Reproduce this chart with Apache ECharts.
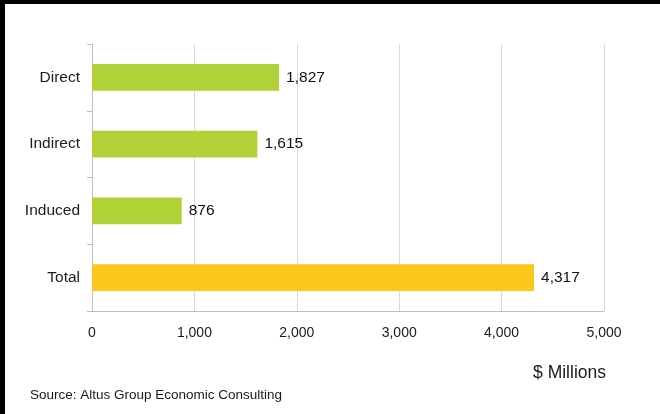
<!DOCTYPE html>
<html>
<head>
<meta charset="utf-8">
<script src="https://cdn.jsdelivr.net/npm/echarts@6/dist/echarts.min.js"></script>
<style>
html,body{margin:0;padding:0;background:#fff;}
#chart{width:660px;height:414px;}
</style>
</head>
<body>
<div id="chart"></div>
<script>
const categories = ['Direct', 'Indirect', 'Induced', 'Total'];
const values = [1827, 1615, 876, 4317];
const xTicks = [0, 1000, 2000, 3000, 4000, 5000];
const axisTitle = '$ Millions';
const sourceText = 'Source: Altus Group Economic Consulting';

const FONT = 'Liberation Sans, Arial, sans-serif';
const fmt = v => Number(v).toLocaleString('en-US');
const chart = echarts.init(document.getElementById('chart'), null, {renderer: 'canvas'});
chart.setOption({
  animation: false,
  backgroundColor: '#ffffff',
  textStyle: {fontFamily: FONT},
  grid: {left: 92, right: 56, top: 44, bottom: 103, containLabel: false},
  xAxis: {
    type: 'value',
    min: xTicks[0],
    max: xTicks[xTicks.length - 1],
    interval: xTicks[1] - xTicks[0],
    axisLine: {show: true, lineStyle: {color: '#bfbfbf', width: 1}},
    axisTick: {show: false},
    splitLine: {show: true, lineStyle: {color: '#d9d9d9', width: 1}},
    axisLabel: {color: '#1a1a1a', fontSize: 14, margin: 15, formatter: fmt}
  },
  yAxis: {
    type: 'category',
    data: categories,
    inverse: true,
    axisLine: {show: true, lineStyle: {color: '#bfbfbf', width: 1}},
    axisTick: {show: true, inside: false, length: 5, alignWithLabel: false, lineStyle: {color: '#bfbfbf'}},
    axisLabel: {color: '#1a1a1a', fontSize: 15.5, margin: 12}
  },
  series: [{
    type: 'bar',
    data: values,
    barCategoryGap: '60%',
    itemStyle: {
      color: p => p.name === 'Total' ? '#fcc71b' : '#b0d138'
    },
    label: {
      show: true,
      position: 'right',
      distance: 7,
      color: '#111',
      fontSize: 15.5,
      formatter: p => fmt(p.value)
    }
  }],
  graphic: [
    {type: 'rect', shape: {x: 0, y: 0, width: 660, height: 4}, style: {fill: '#000'}},
    {type: 'rect', shape: {x: 0, y: 0, width: 5, height: 414}, style: {fill: '#000'}},
    {type: 'text', right: 54, top: 364, style: {text: axisTitle, fontSize: 17.5, fill: '#1a1a1a', fontFamily: FONT}},
    {type: 'text', left: 30, top: 388, style: {text: sourceText, fontSize: 13.5, fill: '#1a1a1a', fontFamily: FONT}}
  ]
});
</script>
</body>
</html>
